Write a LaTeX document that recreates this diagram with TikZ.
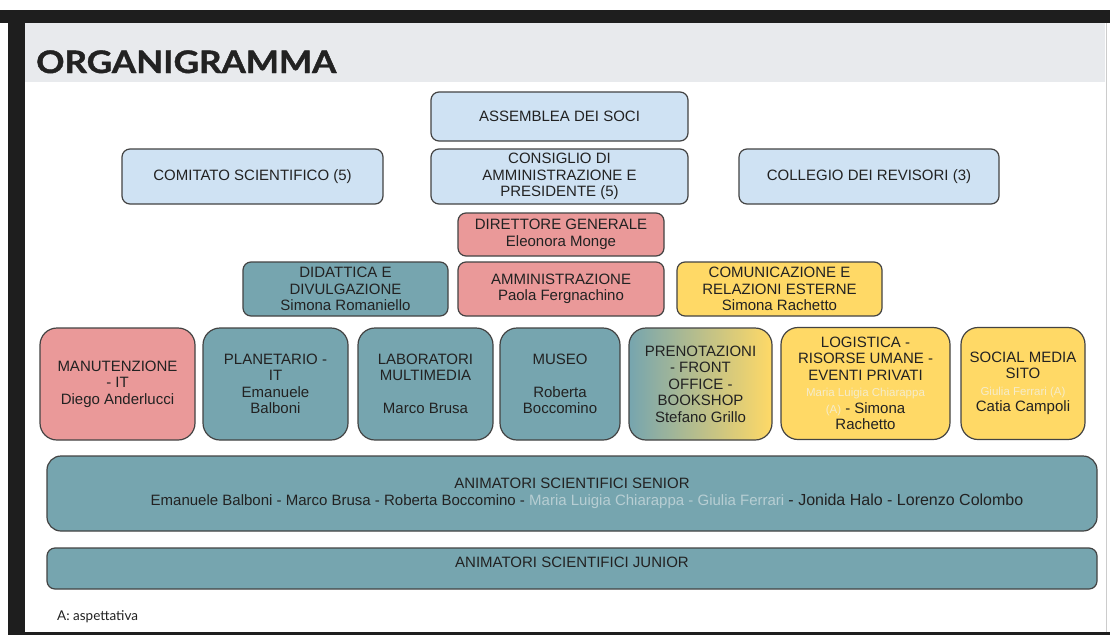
\documentclass[tikz,border=0pt]{standalone}
\usepackage{fontspec}
\setmainfont{Liberation Sans}
\newfontfamily\titlefont{Lato}[BoldFeatures={FakeBold=1.3}]
\usetikzlibrary{positioning}
\definecolor{azz}{HTML}{CFE2F3}
\definecolor{ros}{HTML}{EA9999}
\definecolor{pet}{HTML}{76A5AF}
\definecolor{gia}{HTML}{FFD966}
\definecolor{bordo}{HTML}{434343}
\definecolor{testo}{HTML}{222222}
\definecolor{sbiadG}{HTML}{F5ECCB}
\definecolor{sbiadP}{HTML}{B7CED3}
\definecolor{fascia}{HTML}{E8EAED}
\definecolor{cornice}{HTML}{1E1E1E}
\tikzset{uff/.style={draw=bordo, line width=1.2pt, rounded corners=8pt, align=center, inner sep=2pt, text=testo, font=\fontsize{15}{16.5}\selectfont}}
\tikzset{blu/.style={uff, fill=azz}}
\tikzset{rosso/.style={uff, fill=ros}}
\tikzset{petrolio/.style={uff, fill=pet}}
\tikzset{giallo/.style={uff, fill=gia}}
\tikzset{area/.style={rounded corners=17pt, minimum height=112pt}}
\newcommand{\sbiad}[2]{{\fontsize{11.5}{16.5}\selectfont\textcolor{#1}{#2}}}

\begin{document}
\begin{tikzpicture}[x=1pt, y=-1pt]
\useasboundingbox (0,0) rectangle (1110,635);

% cornice e fascia del titolo
\fill[white] (0,0) rectangle (1110,635);
\fill[cornice] (0,10) rectangle (1110,23);
\fill[cornice] (8,10) rectangle (25,635);
\fill[cornice] (25,632) rectangle (1110,635);
\fill[fascia] (25,23) rectangle (1105,82);
\draw[gray!40] (1106,23) -- (1106,632);

\node[anchor=base west, inner sep=0, text=testo, font=\titlefont\bfseries\fontsize{31}{31}\selectfont] (titolo) at (36,73) {\scalebox{1.13}[1]{ORGANIGRAMMA}};

\begin{scope}[on grid]

\node[blu, minimum width=257pt, minimum height=49pt] (ass) at (559.5,116.5) {ASSEMBLEA DEI SOCI};
\node[blu, minimum width=257pt, minimum height=55pt] (cda) [below=60pt of ass] {CONSIGLIO DI\\AMMINISTRAZIONE E\\PRESIDENTE (5)};
\node[blu, minimum width=261pt, minimum height=55pt] (com) [left=307pt of cda] {COMITATO SCIENTIFICO (5)};
\node[blu, minimum width=260pt, minimum height=55pt] (rev) [right=309.5pt of cda] {COLLEGIO DEI REVISORI (3)};

\node[rosso, minimum width=206pt, minimum height=43pt] (dg) at (561,234.5) {DIRETTORE GENERALE\\Eleonora Monge};
\node[rosso, minimum width=206pt, minimum height=54pt] (amm) [below=54.5pt of dg] {AMMINISTRAZIONE\\Paola Fergnachino};
\node[petrolio, minimum width=205pt, minimum height=54pt] (did) [left=215.5pt of amm] {DIDATTICA E\\DIVULGAZIONE\\Simona Romaniello};
\node[giallo, minimum width=205pt, minimum height=54pt] (comu) [right=218.5pt of amm] {COMUNICAZIONE E\\RELAZIONI ESTERNE\\Simona Rachetto};

% aree operative
\node[rosso, area, minimum width=155pt] (man) at (117.5,384) {MANUTENZIONE\\- IT\\Diego Anderlucci};
\node[petrolio, area, minimum width=145pt] (pla) at (275.5,384) {PLANETARIO -\\IT\\Emanuele\\Balboni};
\node[petrolio, area, minimum width=135pt] (lab) at (425.5,384) {LABORATORI\\MULTIMEDIA\\[16.5pt]Marco Brusa};
\node[petrolio, area, minimum width=120pt] (mus) at (560,384) {MUSEO\\[16.5pt]Roberta\\Boccomino};
\node[uff, area, minimum width=143pt, left color=pet, right color=gia] (pre) at (700.5,384) {PRENOTAZIONI\\- FRONT\\OFFICE -\\BOOKSHOP\\Stefano Grillo};
\node[giallo, area, minimum width=169pt] (log) at (865.5,383.5) {LOGISTICA -\\RISORSE UMANE -\\EVENTI PRIVATI\\\sbiad{sbiadG}{Maria Luigia Chiarappa}\\\sbiad{sbiadG}{(A)} - Simona\\Rachetto};
\node[giallo, area, minimum width=124pt] (soc) at (1023,383.5) {SOCIAL MEDIA\\SITO\\\sbiad{sbiadG}{Giulia Ferrari (A)}\\Catia Campoli};

\node[petrolio, rounded corners=14pt, minimum width=1050pt, minimum height=75pt] (sen) at (572,493.5) {ANIMATORI SCIENTIFICI SENIOR\\\hspace*{30pt}Emanuele Balboni - Marco Brusa - Roberta Boccomino - \textcolor{sbiadP}{Maria Luigia Chiarappa - Giulia Ferrari} {\fontsize{16}{16.5}\selectfont - Jonida Halo - Lorenzo Colombo}};
\node[petrolio, minimum width=1050pt, minimum height=41pt, text depth=13pt] (jun) [below=75pt of sen] {ANIMATORI SCIENTIFICI JUNIOR};

\end{scope}

\node[anchor=base west, inner sep=0, text=testo, font=\titlefont\fontsize{13.5}{14}\selectfont] (nota) at (57,620) {A: aspettativa};

\end{tikzpicture}
\end{document}
